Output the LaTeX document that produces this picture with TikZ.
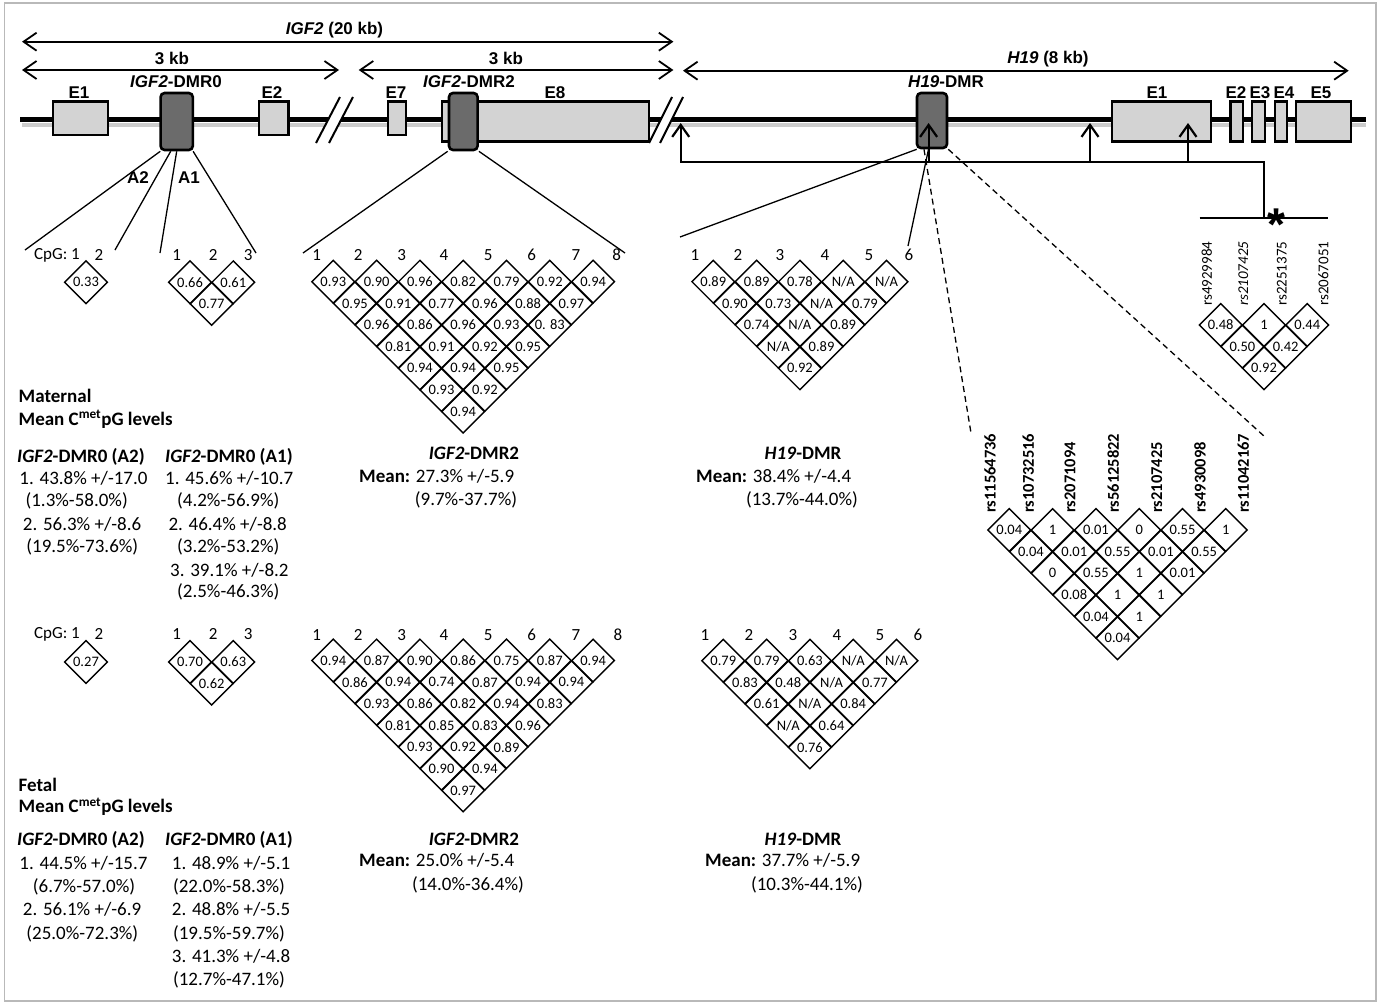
\documentclass[tikz,border=0pt]{standalone}
\usepackage{fontspec}
\setmainfont{Carlito}
\newfontfamily\genefont{Liberation Sans}
\usetikzlibrary{arrows.meta,shapes.geometric}
\definecolor{exgray}{HTML}{D3D3D3}
\definecolor{dmrgray}{HTML}{6B6B6B}
\newcommand\myfs[1]{\fontsize{#1}{#1}\selectfont}
\newcommand\ldrow[5]{\foreach \v [count=\k] in {#5} \node[ldcell] (#1-#4-\k) at ({#2+(#4-1)*21.65+(\k-1)*43.3},{#3+(#4-1)*21.65}) {\v};}
\newcommand\numrow[3]{\foreach \x [count=\k] in {#3} \node[cpgnum] (#1-n\k) at (\x,#2) {\k};}
\tikzset{
  ldcell/.style={shape=diamond, draw, line width=1.4pt, aspect=1, minimum width=43.3pt, minimum height=43.3pt, inner sep=0pt, font=\myfs{14.5}},
  cpgnum/.style={font=\myfs{17}, inner sep=0pt},
  exon/.style={draw, line width=2.6pt, fill=exgray, inner sep=0pt},
  dmrbox/.style={draw, line width=2.6pt, fill=dmrgray, rounded corners=4pt, inner sep=0pt},
  genelbl/.style={font=\genefont\bfseries\myfs{17}, inner sep=0pt},
  dimarrow/.style={line width=1.8pt, {Straight Barb[length=13pt,width=18pt]}-{Straight Barb[length=13pt,width=18pt]}},
  prom/.style={line width=2.2pt},
  promtip/.style={line width=2.2pt, -{Straight Barb[length=12pt,width=17pt]}},
  fan/.style={line width=1.3pt},
  fandash/.style={line width=1.3pt, dash pattern=on 6pt off 4pt},
  body/.style={font=\myfs{19}, inner sep=0pt, text height=12pt, text depth=3.5pt},
  bodyb/.style={body, font=\myfs{19}\bfseries},
  snpbig/.style={rotate=90, anchor=west, font=\myfs{16.5}\bfseries, inner sep=0pt},
  snpsmall/.style={rotate=90, anchor=west, font=\myfs{15}, inner sep=0pt},
}
\begin{document}
\begin{tikzpicture}[x=1pt,y=-1pt]
\useasboundingbox (0,0) rectangle (1380,1004);
\draw[gray!55, line width=1.2pt] (4.5,3) rectangle (1376,1001);

% ---------- dimension arrows ----------
\coordinate (igfL) at (22,41.7); \coordinate (igfR) at (673.4,41.7);
\draw[dimarrow] (igfL) -- (igfR);
\node[genelbl] (igflbl) at (334.5,30) {\textit{IGF2} (20 kb)};
\coordinate (k1L) at (22,70); \coordinate (k1R) at (339,70);
\draw[dimarrow] (k1L) -- (k1R);
\node[genelbl] (k1lbl) at (172,58) {3 kb};
\coordinate (k2L) at (358.7,70); \coordinate (k2R) at (673.4,70);
\draw[dimarrow] (k2L) -- (k2R);
\node[genelbl] (k2lbl) at (506,58) {3 kb};
\coordinate (hL) at (683,70.7); \coordinate (hR) at (1348.7,70.7);
\draw[dimarrow] (hL) -- (hR);
\node[genelbl] (hlbl) at (1048,59) {\textit{H19} (8 kb)};

% ---------- gene line ----------
\coordinate (lineL) at (20,119); \coordinate (lineR) at (1366,119);
\draw[gray!40, line width=4pt] (22,125) -- (1366,125);
\draw[line width=5pt] (lineL) -- (lineR);

% exons
\node[exon, minimum width=55pt, minimum height=33.3pt] (ie1) at (80.3,118.35) {};
\node[exon, minimum width=29.5pt, minimum height=33.3pt] (ie2) at (273.55,118.35) {};
\node[exon, minimum width=17.8pt, minimum height=33.3pt] (ie7) at (396.9,118.35) {};
\node[exon, minimum width=207pt, minimum height=40pt] (ie8) at (545.5,121.7) {};
\node[exon, minimum width=99pt, minimum height=40pt] (he1) at (1161.5,121.7) {};
\node[exon, minimum width=12.3pt, minimum height=40pt] (he2) at (1236.85,121.7) {};
\node[exon, minimum width=13pt, minimum height=40pt] (he3) at (1258.5,121.7) {};
\node[exon, minimum width=12pt, minimum height=40pt] (he4) at (1281,121.7) {};
\node[exon, minimum width=55pt, minimum height=40pt] (he5) at (1323.5,121.7) {};
% DMRs
\node[dmrbox, minimum width=32.2pt, minimum height=57pt] (dmr0) at (176.7,121.5) {};
\node[dmrbox, minimum width=28.6pt, minimum height=57pt] (dmr2) at (463.3,121.5) {};
\node[dmrbox, minimum width=30pt, minimum height=55pt] (hdmr) at (932,120.5) {};
% labels
\node[genelbl] (ie1l) at (79,93) {E1};
\node[genelbl] (ie2l) at (272,93) {E2};
\node[genelbl] (ie7l) at (396,93) {E7};
\node[genelbl] (ie8l) at (555,93) {E8};
\node[genelbl] (he1l) at (1157,93) {E1};
\node[genelbl] (he2l) at (1236,93) {E2};
\node[genelbl] (he3l) at (1260,93) {E3};
\node[genelbl] (he4l) at (1284,93) {E4};
\node[genelbl] (he5l) at (1321,93) {E5};
\node[genelbl] (dmr0l) at (176,82) {\textit{IGF2}-DMR0};
\node[genelbl] (dmr2l) at (469,82) {\textit{IGF2}-DMR2};
\node[genelbl] (hdmrl) at (946,82) {\textit{H19}-DMR};

% breaks
\fill[white] (316,143) -- (340,97) -- (353,97) -- (329,143) -- cycle;
\draw[line width=2pt] (316,143) -- (340,97) (329,143) -- (353,97);
\fill[white] (649,143) -- (672,97) -- (683,97) -- (660,143) -- cycle;
\draw[line width=2pt] (649,143) -- (672,97) (660,143) -- (683,97);

% promoter / transcription arrows
\coordinate (pA) at (680.7,123); \coordinate (pB) at (680.7,161.7);
\coordinate (pC) at (1264,161.7); \coordinate (pD) at (1264,218.3);
\draw[prom, {Straight Barb[length=12pt,width=17pt]}-] (pA) -- (pB) -- (pC) -- (pD);
\coordinate (a1b) at (928.6,161.7); \coordinate (a1t) at (928.6,123);
\coordinate (a2b) at (1090,161.7); \coordinate (a2t) at (1090,123);
\coordinate (a3b) at (1188,161.7); \coordinate (a3t) at (1188,123);
\draw[promtip] (a1b) -- (a1t);
\draw[promtip] (a2b) -- (a2t);
\draw[promtip] (a3b) -- (a3t);
\coordinate (barL) at (1199.5,218.3); \coordinate (barR) at (1328,218.3);
\draw[prom] (barL) -- (barR);
\node[font=\genefont\bfseries\myfs{46}, inner sep=0pt, anchor=base] (ast) at (1276,240) {*};

% fan lines
\coordinate (f1) at (25,250); \coordinate (f2) at (115,250);
\coordinate (f3) at (160,253); \coordinate (f4) at (256,253);
\draw[fan] ([xshift=1pt]dmr0.south west) -- (f1);
\draw[fan] ([xshift=-6pt]dmr0.south) -- (f2);
\draw[fan] (dmr0.south) -- (f3);
\draw[fan] ([xshift=-1pt]dmr0.south east) -- (f4);
\node[genelbl] (a2l) at (138,178) {A2};
\node[genelbl] (a1l) at (189,178) {A1};
\coordinate (g1) at (303,253); \coordinate (g2) at (625,253);
\draw[fan] (dmr2.south west) -- (g1);
\draw[fan] (dmr2.south east) -- (g2);
\coordinate (h1) at (680,237); \coordinate (h2) at (908,246);
\coordinate (h3) at (971,433); \coordinate (h4) at (1265,437);
\draw[fan] ([xshift=1pt]hdmr.south west) -- (h1);
\draw[fan] ([xshift=-3.5pt]hdmr.south) -- (h2);
\draw[fandash] ([xshift=-8pt]hdmr.south) -- (h3);
\draw[fandash] (hdmr.south east) -- (h4);

% ---------- maternal LD plots ----------
\node[cpgnum] (ma2lab) at (57,255) {CpG: 1};
\node[cpgnum] (ma2lab2) at (99,255) {2};
\numrow{ma1}{255}{176.7,213.3,248.3}
\node[ldcell] (ma2) at (86,282.3) {0.33};
\ldrow{ma1}{190}{282.3}{1}{0.66,0.61}
\ldrow{ma1}{190}{282.3}{2}{0.77}

\numrow{m2}{255}{316.7,358.3,401.7,444,488.3,531.7,576,616.7}
\ldrow{m2}{333.3}{281.7}{1}{0.93,0.90,0.96,0.82,0.79,0.92,0.94}
\ldrow{m2}{333.3}{281.7}{2}{0.95,0.91,0.77,0.96,0.88,0.97}
\ldrow{m2}{333.3}{281.7}{3}{0.96,0.86,0.96,0.93,0. 83}
\ldrow{m2}{333.3}{281.7}{4}{0.81,0.91,0.92,0.95}
\ldrow{m2}{333.3}{281.7}{5}{0.94,0.94,0.95}
\ldrow{m2}{333.3}{281.7}{6}{0.93,0.92}
\ldrow{m2}{333.3}{281.7}{7}{0.94}

\numrow{mh}{255}{695,738,780,825,869,909}
\ldrow{mh}{713.3}{281.7}{1}{0.89,0.89,0.78,N/A,N/A}
\ldrow{mh}{713.3}{281.7}{2}{0.90,0.73,N/A,0.79}
\ldrow{mh}{713.3}{281.7}{3}{0.74,N/A,0.89}
\ldrow{mh}{713.3}{281.7}{4}{N/A,0.89}
\ldrow{mh}{713.3}{281.7}{5}{0.92}

% ---------- fetal LD plots ----------
\node[cpgnum] (fa2lab) at (57,634) {CpG: 1};
\node[cpgnum] (fa2lab2) at (99,634) {2};
\numrow{fa1}{634}{176.7,213.3,248.3}
\node[ldcell] (fa2) at (86,662) {0.27};
\ldrow{fa1}{190}{662}{1}{0.70,0.63}
\ldrow{fa1}{190}{662}{2}{0.62}

\numrow{f2}{635}{316.7,358.3,401.7,444,488.3,531.7,576,618}
\ldrow{f2}{333.3}{660.5}{1}{0.94,0.87,0.90,0.86,0.75,0.87,0.94}
\ldrow{f2}{333.3}{660.5}{2}{0.86,0.94,0.74,0.87,0.94,0.94}
\ldrow{f2}{333.3}{660.5}{3}{0.93,0.86,0.82,0.94,0.83}
\ldrow{f2}{333.3}{660.5}{4}{0.81,0.85,0.83,0.96}
\ldrow{f2}{333.3}{660.5}{5}{0.93,0.92,0.89}
\ldrow{f2}{333.3}{660.5}{6}{0.90,0.94}
\ldrow{f2}{333.3}{660.5}{7}{0.97}

\numrow{fh}{635}{705,749,793,837,880,918}
\ldrow{fh}{723.3}{660.7}{1}{0.79,0.79,0.63,N/A,N/A}
\ldrow{fh}{723.3}{660.7}{2}{0.83,0.48,N/A,0.77}
\ldrow{fh}{723.3}{660.7}{3}{0.61,N/A,0.84}
\ldrow{fh}{723.3}{660.7}{4}{N/A,0.64}
\ldrow{fh}{723.3}{660.7}{5}{0.76}

% ---------- SNP LD plots ----------
\foreach \x/\t [count=\k] in {1206.7/rs4929984,1243.3/\textit{rs2107425},1281.7/rs2251375,1323.3/rs2067051}
  \node[snpsmall] (ss-l\k) at (\x,306) {\t};
\ldrow{ss}{1220.7}{325}{1}{0.48,1,0.44}
\ldrow{ss}{1220.7}{325}{2}{0.50,0.42}
\ldrow{ss}{1220.7}{325}{3}{0.92}

\foreach \x/\t [count=\k] in {990/rs11564736,1028.3/rs10732516,1070/rs2071094,1113.3/rs56125822,1156.7/rs2107425,1200/rs4930098,1243.3/rs11042167}
  \node[snpbig] (bs-l\k) at (\x,513) {\t};
\ldrow{bs}{1009.3}{530}{1}{0.04,1,0.01,0,0.55,1}
\ldrow{bs}{1009.3}{530}{2}{0.04,0.01,0.55,0.01,0.55}
\ldrow{bs}{1009.3}{530}{3}{0,0.55,1,0.01}
\ldrow{bs}{1009.3}{530}{4}{0.08,1,1}
\ldrow{bs}{1009.3}{530}{5}{0.04,1}
\ldrow{bs}{1009.3}{530}{6}{0.04}

% ---------- maternal text ----------
\node[bodyb, anchor=west] (mat) at (18.5,398) {Maternal};
\node[bodyb, anchor=west] (matm) at (18.5,421) {Mean C\textsuperscript{met}pG levels};
\node[bodyb, anchor=west] (ma2h) at (17,458.5) {\textit{IGF2}-DMR0 (A2)};
\node[bodyb, anchor=west] (ma1h) at (165,458.5) {\textit{IGF2}-DMR0 (A1)};
\node[body, anchor=west] (mt1) at (19.3,480) {1. 43.8\% +/-17.0};
\node[body] (mt2) at (76.7,502) {(1.3\%-58.0\%)};
\node[body, anchor=west] (mt3) at (22.7,526.7) {2. 56.3\% +/-8.6};
\node[body] (mt4) at (82.3,548.3) {(19.5\%-73.6\%)};
\node[body, anchor=west] (mt5) at (165,480) {1. 45.6\% +/-10.7};
\node[body] (mt6) at (228.3,502) {(4.2\%-56.9\%)};
\node[body, anchor=west] (mt7) at (168.3,526.7) {2. 46.4\% +/-8.8};
\node[body] (mt8) at (228.3,548.3) {(3.2\%-53.2\%)};
\node[body, anchor=west] (mt9) at (170,572) {3. 39.1\% +/-8.2};
\node[body] (mt10) at (228.3,593.3) {(2.5\%-46.3\%)};

\node[bodyb] (m2t) at (474,455) {\textit{IGF2}-DMR2};
\node[body, anchor=west] (m2m) at (359,478) {\textbf{Mean:} 27.3\% +/-5.9};
\node[body] (m2r) at (466,501) {(9.7\%-37.7\%)};
\node[bodyb] (mht) at (803,455) {\textit{H19}-DMR};
\node[body, anchor=west] (mhm) at (696,478) {\textbf{Mean:} 38.4\% +/-4.4};
\node[body] (mhr) at (802,501) {(13.7\%-44.0\%)};

% ---------- fetal text ----------
\node[bodyb, anchor=west] (fet) at (18.5,787) {Fetal};
\node[bodyb, anchor=west] (fetm) at (18.5,808.5) {Mean C\textsuperscript{met}pG levels};
\node[bodyb, anchor=west] (fa2h) at (17,841.7) {\textit{IGF2}-DMR0 (A2)};
\node[bodyb, anchor=west] (fa1h) at (165,841.7) {\textit{IGF2}-DMR0 (A1)};
\node[body, anchor=west] (ft1) at (19.3,865) {1. 44.5\% +/-15.7};
\node[body] (ft2) at (84,888) {(6.7\%-57.0\%)};
\node[body, anchor=west] (ft3) at (22.7,911.7) {2. 56.1\% +/-6.9};
\node[body] (ft4) at (82.3,935) {(25.0\%-72.3\%)};
\node[body, anchor=west] (ft5) at (171.7,865) {1. 48.9\% +/-5.1};
\node[body] (ft6) at (229,888) {(22.0\%-58.3\%)};
\node[body, anchor=west] (ft7) at (171.7,911.7) {2. 48.8\% +/-5.5};
\node[body] (ft8) at (229,935) {(19.5\%-59.7\%)};
\node[body, anchor=west] (ft9) at (171.7,958) {3. 41.3\% +/-4.8};
\node[body] (ft10) at (229,981.7) {(12.7\%-47.1\%)};

\node[bodyb] (f2t) at (474,841) {\textit{IGF2}-DMR2};
\node[body, anchor=west] (f2m) at (359,862) {\textbf{Mean:} 25.0\% +/-5.4};
\node[body] (f2r) at (468,886) {(14.0\%-36.4\%)};
\node[bodyb] (fht) at (803,841) {\textit{H19}-DMR};
\node[body, anchor=west] (fhm) at (705,862) {\textbf{Mean:} 37.7\% +/-5.9};
\node[body] (fhr) at (807,886) {(10.3\%-44.1\%)};
\end{tikzpicture}
\end{document}
